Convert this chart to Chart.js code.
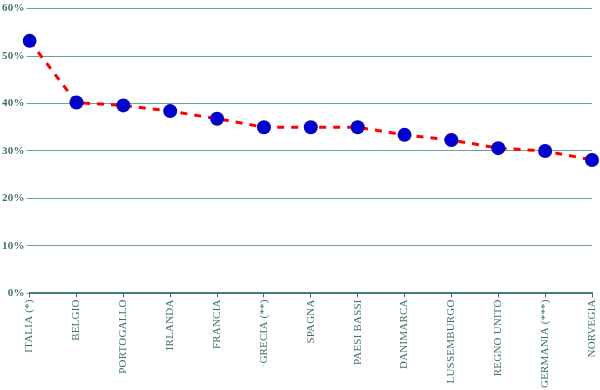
<!DOCTYPE html>
<html>
<head>
<meta charset="utf-8">
<script src="https://cdn.jsdelivr.net/npm/chart.js@4"></script>
<style>
  html, body { margin: 0; padding: 0; background: #fff; }
  #wrap { width: 600px; height: 390px; }
</style>
</head>
<body>
<div id="wrap"><canvas id="myChart"></canvas></div>
<script>
const paesi = ["ITALIA (*)", "BELGIO", "PORTOGALLO", "IRLANDA", "FRANCIA", "GRECIA (**)", "SPAGNA",
    "PAESI BASSI", "DANIMARCA", "LUSSEMBURGO", "REGNO UNITO", "GERMANIA (***)", "NORVEGIA"];
const valori = [53.2, 40.2, 39.6, 38.4, 36.8, 35.0, 35.0, 35.0, 33.4, 32.3, 30.6, 30.0, 28.1];
const yTicks = [0, 10, 20, 30, 40, 50, 60];

const teal = '#3f7070';

// spaziatura lettere come nell'originale (anche per le misure)
const setSpacing = (chart) => { chart.ctx.letterSpacing = '0.2px'; };
const spacing = {
    id: 'spacing',
    beforeInit: setSpacing,
    beforeUpdate: setSpacing,
    beforeLayout: setSpacing,
    beforeDraw: setSpacing
};

const ctx = document.getElementById('myChart').getContext('2d');
const myChart = new Chart(ctx, {
    type: 'line',
    data: {
        labels: paesi,
        datasets: [{
            data: valori,
            borderColor: '#ff0000',
            borderWidth: 3,
            borderDash: [7, 7],
            tension: 0,
            pointRadius: 7,
            pointHoverRadius: 7,
            pointBackgroundColor: '#0000cc',
            pointBorderColor: '#0000cc',
            pointBorderWidth: 0
        }]
    },
    plugins: [spacing],
    options: {
        responsive: true,
        maintainAspectRatio: false,
        animation: false,
        layout: { padding: { top: 0, right: 0, bottom: 0, left: 0 } },
        plugins: {
            legend: { display: false },
            tooltip: { enabled: false }
        },
        scales: {
            x: {
                offset: false,
                afterFit: (scale) => { scale.paddingRight = 8; },
                grid: {
                    display: true,
                    drawOnChartArea: false,
                    drawTicks: true,
                    tickLength: 4,
                    color: teal
                },
                border: { display: true, color: '#4a7c7c', width: 2 },
                ticks: {
                    color: teal,
                    font: { family: '"Liberation Serif", "DejaVu Serif", serif', size: 11 },
                    maxRotation: 90,
                    minRotation: 90,
                    autoSkip: false,
                    padding: 2
                }
            },
            y: {
                min: 0,
                max: 60,
                afterBuildTicks: (scale) => { scale.ticks = yTicks.map(v => ({ value: v })); },
                grid: {
                    color: '#6f9e9e',
                    lineWidth: 1,
                    tickLength: 3
                },
                border: { display: false },
                ticks: {
                    color: teal,
                    font: { family: '"Liberation Serif", "DejaVu Serif", serif', size: 11, weight: 'bold' },
                    padding: 2,
                    callback: (v) => v + '%'
                }
            }
        }
    }
});
</script>
</body>
</html>
